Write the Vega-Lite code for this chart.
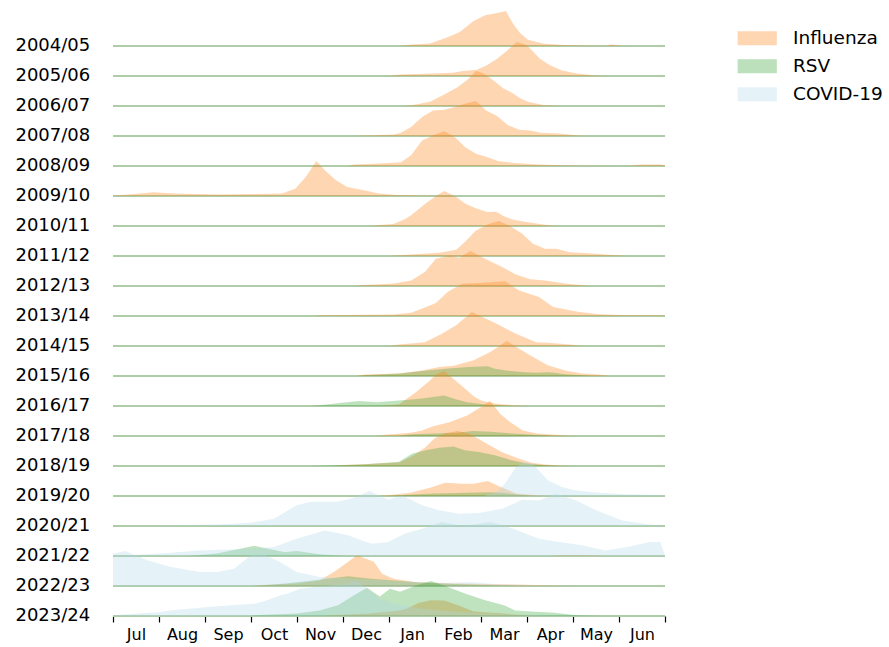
{
  "$schema": "https://vega.github.io/schema/vega-lite/v6.json",
  "padding": {"left": 15, "top": 11, "right": 5, "bottom": 5},
  "data": {"values": [
    {"season":"2004/05","virus":"Influenza","month":6.2,"level":0},
    {"season":"2004/05","virus":"Influenza","month":6.52,"level":4},
    {"season":"2004/05","virus":"Influenza","month":6.89,"level":7},
    {"season":"2004/05","virus":"Influenza","month":7.26,"level":24},
    {"season":"2004/05","virus":"Influenza","month":7.54,"level":40},
    {"season":"2004/05","virus":"Influenza","month":7.83,"level":71},
    {"season":"2004/05","virus":"Influenza","month":8.09,"level":88},
    {"season":"2004/05","virus":"Influenza","month":8.35,"level":94},
    {"season":"2004/05","virus":"Influenza","month":8.54,"level":100},
    {"season":"2004/05","virus":"Influenza","month":8.7,"level":63},
    {"season":"2004/05","virus":"Influenza","month":8.85,"level":37},
    {"season":"2004/05","virus":"Influenza","month":9.02,"level":18},
    {"season":"2004/05","virus":"Influenza","month":9.35,"level":7},
    {"season":"2004/05","virus":"Influenza","month":9.78,"level":3},
    {"season":"2004/05","virus":"Influenza","month":10.37,"level":1},
    {"season":"2004/05","virus":"Influenza","month":10.7,"level":1},
    {"season":"2004/05","virus":"Influenza","month":10.85,"level":4},
    {"season":"2004/05","virus":"Influenza","month":11.02,"level":1},
    {"season":"2004/05","virus":"Influenza","month":11.2,"level":0},

    {"season":"2005/06","virus":"Influenza","month":6.0,"level":0},
    {"season":"2005/06","virus":"Influenza","month":6.24,"level":4},
    {"season":"2005/06","virus":"Influenza","month":6.96,"level":7},
    {"season":"2005/06","virus":"Influenza","month":7.39,"level":9},
    {"season":"2005/06","virus":"Influenza","month":7.61,"level":14},
    {"season":"2005/06","virus":"Influenza","month":7.91,"level":18},
    {"season":"2005/06","virus":"Influenza","month":8.13,"level":31},
    {"season":"2005/06","virus":"Influenza","month":8.35,"level":49},
    {"season":"2005/06","virus":"Influenza","month":8.57,"level":73},
    {"season":"2005/06","virus":"Influenza","month":8.78,"level":97},
    {"season":"2005/06","virus":"Influenza","month":9.0,"level":88},
    {"season":"2005/06","virus":"Influenza","month":9.11,"level":73},
    {"season":"2005/06","virus":"Influenza","month":9.28,"level":49},
    {"season":"2005/06","virus":"Influenza","month":9.5,"level":31},
    {"season":"2005/06","virus":"Influenza","month":9.76,"level":16},
    {"season":"2005/06","virus":"Influenza","month":10.09,"level":7},
    {"season":"2005/06","virus":"Influenza","month":10.43,"level":2},
    {"season":"2005/06","virus":"Influenza","month":10.7,"level":0},

    {"season":"2006/07","virus":"Influenza","month":6.3,"level":0},
    {"season":"2006/07","virus":"Influenza","month":6.52,"level":3},
    {"season":"2006/07","virus":"Influenza","month":6.89,"level":12},
    {"season":"2006/07","virus":"Influenza","month":7.17,"level":31},
    {"season":"2006/07","virus":"Influenza","month":7.48,"level":53},
    {"season":"2006/07","virus":"Influenza","month":7.7,"level":74},
    {"season":"2006/07","virus":"Influenza","month":7.89,"level":100},
    {"season":"2006/07","virus":"Influenza","month":8.04,"level":94},
    {"season":"2006/07","virus":"Influenza","month":8.26,"level":74},
    {"season":"2006/07","virus":"Influenza","month":8.48,"level":51},
    {"season":"2006/07","virus":"Influenza","month":8.7,"level":36},
    {"season":"2006/07","virus":"Influenza","month":8.85,"level":22},
    {"season":"2006/07","virus":"Influenza","month":9.02,"level":12},
    {"season":"2006/07","virus":"Influenza","month":9.35,"level":3},
    {"season":"2006/07","virus":"Influenza","month":9.7,"level":0},

    {"season":"2007/08","virus":"Influenza","month":5.2,"level":0},
    {"season":"2007/08","virus":"Influenza","month":5.35,"level":1},
    {"season":"2007/08","virus":"Influenza","month":6.1,"level":4},
    {"season":"2007/08","virus":"Influenza","month":6.26,"level":9},
    {"season":"2007/08","virus":"Influenza","month":6.48,"level":26},
    {"season":"2007/08","virus":"Influenza","month":6.72,"level":54},
    {"season":"2007/08","virus":"Influenza","month":6.96,"level":73},
    {"season":"2007/08","virus":"Influenza","month":7.2,"level":75},
    {"season":"2007/08","virus":"Influenza","month":7.43,"level":83},
    {"season":"2007/08","virus":"Influenza","month":7.65,"level":92},
    {"season":"2007/08","virus":"Influenza","month":7.89,"level":100},
    {"season":"2007/08","virus":"Influenza","month":8.11,"level":73},
    {"season":"2007/08","virus":"Influenza","month":8.35,"level":57},
    {"season":"2007/08","virus":"Influenza","month":8.59,"level":31},
    {"season":"2007/08","virus":"Influenza","month":8.83,"level":18},
    {"season":"2007/08","virus":"Influenza","month":9.07,"level":16},
    {"season":"2007/08","virus":"Influenza","month":9.3,"level":9},
    {"season":"2007/08","virus":"Influenza","month":9.7,"level":7},
    {"season":"2007/08","virus":"Influenza","month":10.15,"level":1},
    {"season":"2007/08","virus":"Influenza","month":10.4,"level":0},

    {"season":"2008/09","virus":"Influenza","month":5.1,"level":0},
    {"season":"2008/09","virus":"Influenza","month":5.24,"level":4},
    {"season":"2008/09","virus":"Influenza","month":5.78,"level":7},
    {"season":"2008/09","virus":"Influenza","month":6.26,"level":11},
    {"season":"2008/09","virus":"Influenza","month":6.48,"level":31},
    {"season":"2008/09","virus":"Influenza","month":6.72,"level":73},
    {"season":"2008/09","virus":"Influenza","month":6.96,"level":88},
    {"season":"2008/09","virus":"Influenza","month":7.2,"level":99},
    {"season":"2008/09","virus":"Influenza","month":7.43,"level":83},
    {"season":"2008/09","virus":"Influenza","month":7.65,"level":54},
    {"season":"2008/09","virus":"Influenza","month":7.89,"level":35},
    {"season":"2008/09","virus":"Influenza","month":8.13,"level":26},
    {"season":"2008/09","virus":"Influenza","month":8.37,"level":14},
    {"season":"2008/09","virus":"Influenza","month":8.67,"level":9},
    {"season":"2008/09","virus":"Influenza","month":9.14,"level":5},
    {"season":"2008/09","virus":"Influenza","month":9.7,"level":2},
    {"season":"2008/09","virus":"Influenza","month":10.3,"level":1},
    {"season":"2008/09","virus":"Influenza","month":11.0,"level":0},
    {"season":"2008/09","virus":"Influenza","month":11.24,"level":1},
    {"season":"2008/09","virus":"Influenza","month":11.5,"level":4},
    {"season":"2008/09","virus":"Influenza","month":11.89,"level":4},
    {"season":"2008/09","virus":"Influenza","month":12.0,"level":2},

    {"season":"2009/10","virus":"Influenza","month":0,"level":1},
    {"season":"2009/10","virus":"Influenza","month":0.4,"level":5},
    {"season":"2009/10","virus":"Influenza","month":0.87,"level":11},
    {"season":"2009/10","virus":"Influenza","month":1.34,"level":7},
    {"season":"2009/10","virus":"Influenza","month":2.28,"level":4},
    {"season":"2009/10","virus":"Influenza","month":3.67,"level":7},
    {"season":"2009/10","virus":"Influenza","month":3.96,"level":21},
    {"season":"2009/10","virus":"Influenza","month":4.19,"level":54},
    {"season":"2009/10","virus":"Influenza","month":4.42,"level":100},
    {"season":"2009/10","virus":"Influenza","month":4.61,"level":73},
    {"season":"2009/10","virus":"Influenza","month":4.85,"level":45},
    {"season":"2009/10","virus":"Influenza","month":5.09,"level":26},
    {"season":"2009/10","virus":"Influenza","month":5.48,"level":16},
    {"season":"2009/10","virus":"Influenza","month":5.78,"level":7},
    {"season":"2009/10","virus":"Influenza","month":6.17,"level":3},
    {"season":"2009/10","virus":"Influenza","month":6.96,"level":1},
    {"season":"2009/10","virus":"Influenza","month":7.3,"level":0},

    {"season":"2010/11","virus":"Influenza","month":5.6,"level":0},
    {"season":"2010/11","virus":"Influenza","month":5.73,"level":2},
    {"season":"2010/11","virus":"Influenza","month":6.1,"level":6},
    {"season":"2010/11","virus":"Influenza","month":6.35,"level":20},
    {"season":"2010/11","virus":"Influenza","month":6.48,"level":31},
    {"season":"2010/11","virus":"Influenza","month":6.78,"level":63},
    {"season":"2010/11","virus":"Influenza","month":7.02,"level":86},
    {"season":"2010/11","virus":"Influenza","month":7.2,"level":100},
    {"season":"2010/11","virus":"Influenza","month":7.43,"level":86},
    {"season":"2010/11","virus":"Influenza","month":7.67,"level":63},
    {"season":"2010/11","virus":"Influenza","month":7.89,"level":51},
    {"season":"2010/11","virus":"Influenza","month":8.13,"level":40},
    {"season":"2010/11","virus":"Influenza","month":8.33,"level":41},
    {"season":"2010/11","virus":"Influenza","month":8.48,"level":29},
    {"season":"2010/11","virus":"Influenza","month":8.65,"level":20},
    {"season":"2010/11","virus":"Influenza","month":8.85,"level":14},
    {"season":"2010/11","virus":"Influenza","month":9.09,"level":9},
    {"season":"2010/11","virus":"Influenza","month":9.46,"level":2},
    {"season":"2010/11","virus":"Influenza","month":9.7,"level":0},

    {"season":"2011/12","virus":"Influenza","month":6.0,"level":0},
    {"season":"2011/12","virus":"Influenza","month":6.22,"level":2},
    {"season":"2011/12","virus":"Influenza","month":7.09,"level":9},
    {"season":"2011/12","virus":"Influenza","month":7.46,"level":18},
    {"season":"2011/12","virus":"Influenza","month":7.65,"level":40},
    {"season":"2011/12","virus":"Influenza","month":7.89,"level":73},
    {"season":"2011/12","virus":"Influenza","month":8.15,"level":91},
    {"season":"2011/12","virus":"Influenza","month":8.39,"level":100},
    {"season":"2011/12","virus":"Influenza","month":8.64,"level":85},
    {"season":"2011/12","virus":"Influenza","month":8.89,"level":64},
    {"season":"2011/12","virus":"Influenza","month":9.13,"level":35},
    {"season":"2011/12","virus":"Influenza","month":9.39,"level":21},
    {"season":"2011/12","virus":"Influenza","month":9.63,"level":21},
    {"season":"2011/12","virus":"Influenza","month":9.93,"level":11},
    {"season":"2011/12","virus":"Influenza","month":10.43,"level":7},
    {"season":"2011/12","virus":"Influenza","month":10.93,"level":2},
    {"season":"2011/12","virus":"Influenza","month":11.2,"level":0},

    {"season":"2012/13","virus":"Influenza","month":5.2,"level":0},
    {"season":"2012/13","virus":"Influenza","month":5.48,"level":3},
    {"season":"2012/13","virus":"Influenza","month":6.1,"level":7},
    {"season":"2012/13","virus":"Influenza","month":6.48,"level":16},
    {"season":"2012/13","virus":"Influenza","month":6.78,"level":40},
    {"season":"2012/13","virus":"Influenza","month":7.02,"level":78},
    {"season":"2012/13","virus":"Influenza","month":7.34,"level":88},
    {"season":"2012/13","virus":"Influenza","month":7.52,"level":81},
    {"season":"2012/13","virus":"Influenza","month":7.77,"level":100},
    {"season":"2012/13","virus":"Influenza","month":8.09,"level":78},
    {"season":"2012/13","virus":"Influenza","month":8.46,"level":54},
    {"season":"2012/13","virus":"Influenza","month":8.76,"level":33},
    {"season":"2012/13","virus":"Influenza","month":9.07,"level":19},
    {"season":"2012/13","virus":"Influenza","month":9.39,"level":16},
    {"season":"2012/13","virus":"Influenza","month":9.83,"level":7},
    {"season":"2012/13","virus":"Influenza","month":10.2,"level":2},
    {"season":"2012/13","virus":"Influenza","month":10.4,"level":0},

    {"season":"2013/14","virus":"Influenza","month":4.4,"level":0},
    {"season":"2013/14","virus":"Influenza","month":4.48,"level":2},
    {"season":"2013/14","virus":"Influenza","month":6.1,"level":4},
    {"season":"2013/14","virus":"Influenza","month":6.48,"level":9},
    {"season":"2013/14","virus":"Influenza","month":6.78,"level":24},
    {"season":"2013/14","virus":"Influenza","month":7.02,"level":37},
    {"season":"2013/14","virus":"Influenza","month":7.28,"level":69},
    {"season":"2013/14","virus":"Influenza","month":7.59,"level":92},
    {"season":"2013/14","virus":"Influenza","month":7.96,"level":94},
    {"season":"2013/14","virus":"Influenza","month":8.52,"level":99},
    {"season":"2013/14","virus":"Influenza","month":8.83,"level":73},
    {"season":"2013/14","virus":"Influenza","month":9.26,"level":54},
    {"season":"2013/14","virus":"Influenza","month":9.57,"level":26},
    {"season":"2013/14","virus":"Influenza","month":10.07,"level":13},
    {"season":"2013/14","virus":"Influenza","month":10.57,"level":5},
    {"season":"2013/14","virus":"Influenza","month":11.18,"level":2},
    {"season":"2013/14","virus":"Influenza","month":11.93,"level":2},
    {"season":"2013/14","virus":"Influenza","month":12.0,"level":1},

    {"season":"2014/15","virus":"Influenza","month":6.0,"level":0},
    {"season":"2014/15","virus":"Influenza","month":6.22,"level":4},
    {"season":"2014/15","virus":"Influenza","month":6.78,"level":11},
    {"season":"2014/15","virus":"Influenza","month":7.15,"level":35},
    {"season":"2014/15","virus":"Influenza","month":7.46,"level":59},
    {"season":"2014/15","virus":"Influenza","month":7.8,"level":97},
    {"season":"2014/15","virus":"Influenza","month":8.33,"level":64},
    {"season":"2014/15","virus":"Influenza","month":8.76,"level":35},
    {"season":"2014/15","virus":"Influenza","month":9.2,"level":11},
    {"season":"2014/15","virus":"Influenza","month":9.46,"level":9},
    {"season":"2014/15","virus":"Influenza","month":9.93,"level":4},
    {"season":"2014/15","virus":"Influenza","month":10.2,"level":0},

    {"season":"2015/16","virus":"Influenza","month":5.3,"level":0},
    {"season":"2015/16","virus":"Influenza","month":5.48,"level":4},
    {"season":"2015/16","virus":"Influenza","month":6.22,"level":7},
    {"season":"2015/16","virus":"Influenza","month":6.72,"level":16},
    {"season":"2015/16","virus":"Influenza","month":7.09,"level":26},
    {"season":"2015/16","virus":"Influenza","month":7.4,"level":29},
    {"season":"2015/16","virus":"Influenza","month":7.84,"level":45},
    {"season":"2015/16","virus":"Influenza","month":8.21,"level":69},
    {"season":"2015/16","virus":"Influenza","month":8.56,"level":100},
    {"season":"2015/16","virus":"Influenza","month":8.83,"level":78},
    {"season":"2015/16","virus":"Influenza","month":9.13,"level":54},
    {"season":"2015/16","virus":"Influenza","month":9.45,"level":31},
    {"season":"2015/16","virus":"Influenza","month":9.83,"level":16},
    {"season":"2015/16","virus":"Influenza","month":10.2,"level":7},
    {"season":"2015/16","virus":"Influenza","month":10.57,"level":4},
    {"season":"2015/16","virus":"Influenza","month":10.8,"level":0},
    {"season":"2015/16","virus":"RSV","month":5.3,"level":0},
    {"season":"2015/16","virus":"RSV","month":5.48,"level":2},
    {"season":"2015/16","virus":"RSV","month":6.22,"level":7},
    {"season":"2015/16","virus":"RSV","month":6.72,"level":14},
    {"season":"2015/16","virus":"RSV","month":7.22,"level":21},
    {"season":"2015/16","virus":"RSV","month":7.72,"level":26},
    {"season":"2015/16","virus":"RSV","month":8.15,"level":28},
    {"season":"2015/16","virus":"RSV","month":8.3,"level":21},
    {"season":"2015/16","virus":"RSV","month":8.65,"level":14},
    {"season":"2015/16","virus":"RSV","month":8.96,"level":11},
    {"season":"2015/16","virus":"RSV","month":9.2,"level":9},
    {"season":"2015/16","virus":"RSV","month":9.45,"level":11},
    {"season":"2015/16","virus":"RSV","month":9.6,"level":9},
    {"season":"2015/16","virus":"RSV","month":9.83,"level":5},
    {"season":"2015/16","virus":"RSV","month":10.2,"level":2},
    {"season":"2015/16","virus":"RSV","month":10.4,"level":0},

    {"season":"2016/17","virus":"Influenza","month":5.8,"level":0},
    {"season":"2016/17","virus":"Influenza","month":6.22,"level":5},
    {"season":"2016/17","virus":"Influenza","month":6.59,"level":40},
    {"season":"2016/17","virus":"Influenza","month":6.89,"level":73},
    {"season":"2016/17","virus":"Influenza","month":7.02,"level":90},
    {"season":"2016/17","virus":"Influenza","month":7.2,"level":100},
    {"season":"2016/17","virus":"Influenza","month":7.43,"level":74},
    {"season":"2016/17","virus":"Influenza","month":7.65,"level":50},
    {"season":"2016/17","virus":"Influenza","month":7.84,"level":28},
    {"season":"2016/17","virus":"Influenza","month":8.0,"level":16},
    {"season":"2016/17","virus":"Influenza","month":8.3,"level":7},
    {"season":"2016/17","virus":"Influenza","month":8.7,"level":2},
    {"season":"2016/17","virus":"Influenza","month":9.0,"level":0},
    {"season":"2016/17","virus":"RSV","month":4.3,"level":0},
    {"season":"2016/17","virus":"RSV","month":4.49,"level":2},
    {"season":"2016/17","virus":"RSV","month":4.98,"level":9},
    {"season":"2016/17","virus":"RSV","month":5.35,"level":14},
    {"season":"2016/17","virus":"RSV","month":5.73,"level":11},
    {"season":"2016/17","virus":"RSV","month":6.22,"level":16},
    {"season":"2016/17","virus":"RSV","month":6.67,"level":21},
    {"season":"2016/17","virus":"RSV","month":7.2,"level":30},
    {"season":"2016/17","virus":"RSV","month":7.45,"level":19},
    {"season":"2016/17","virus":"RSV","month":7.7,"level":11},
    {"season":"2016/17","virus":"RSV","month":8.1,"level":4},
    {"season":"2016/17","virus":"RSV","month":8.5,"level":1},
    {"season":"2016/17","virus":"RSV","month":8.7,"level":0},

    {"season":"2017/18","virus":"Influenza","month":5.7,"level":0},
    {"season":"2017/18","virus":"Influenza","month":5.98,"level":4},
    {"season":"2017/18","virus":"Influenza","month":6.47,"level":9},
    {"season":"2017/18","virus":"Influenza","month":6.72,"level":16},
    {"season":"2017/18","virus":"Influenza","month":6.96,"level":28},
    {"season":"2017/18","virus":"Influenza","month":7.33,"level":40},
    {"season":"2017/18","virus":"Influenza","month":7.71,"level":59},
    {"season":"2017/18","virus":"Influenza","month":8.0,"level":83},
    {"season":"2017/18","virus":"Influenza","month":8.2,"level":100},
    {"season":"2017/18","virus":"Influenza","month":8.41,"level":64},
    {"season":"2017/18","virus":"Influenza","month":8.63,"level":40},
    {"season":"2017/18","virus":"Influenza","month":8.91,"level":16},
    {"season":"2017/18","virus":"Influenza","month":9.22,"level":7},
    {"season":"2017/18","virus":"Influenza","month":9.7,"level":3},
    {"season":"2017/18","virus":"Influenza","month":10.0,"level":0},
    {"season":"2017/18","virus":"RSV","month":6.2,"level":0},
    {"season":"2017/18","virus":"RSV","month":6.47,"level":5},
    {"season":"2017/18","virus":"RSV","month":7.46,"level":9},
    {"season":"2017/18","virus":"RSV","month":7.84,"level":14},
    {"season":"2017/18","virus":"RSV","month":8.21,"level":12},
    {"season":"2017/18","virus":"RSV","month":8.7,"level":7},
    {"season":"2017/18","virus":"RSV","month":9.33,"level":2},
    {"season":"2017/18","virus":"RSV","month":9.6,"level":0},

    {"season":"2018/19","virus":"Influenza","month":4.8,"level":0},
    {"season":"2018/19","virus":"Influenza","month":4.98,"level":2},
    {"season":"2018/19","virus":"Influenza","month":6.22,"level":10},
    {"season":"2018/19","virus":"Influenza","month":6.5,"level":28},
    {"season":"2018/19","virus":"Influenza","month":6.78,"level":52},
    {"season":"2018/19","virus":"Influenza","month":7.0,"level":80},
    {"season":"2018/19","virus":"Influenza","month":7.25,"level":94},
    {"season":"2018/19","virus":"Influenza","month":7.5,"level":100},
    {"season":"2018/19","virus":"Influenza","month":7.75,"level":92},
    {"season":"2018/19","virus":"Influenza","month":8.1,"level":66},
    {"season":"2018/19","virus":"Influenza","month":8.45,"level":40},
    {"season":"2018/19","virus":"Influenza","month":8.8,"level":22},
    {"season":"2018/19","virus":"Influenza","month":9.1,"level":9},
    {"season":"2018/19","virus":"Influenza","month":9.4,"level":4},
    {"season":"2018/19","virus":"Influenza","month":9.8,"level":1},
    {"season":"2018/19","virus":"Influenza","month":10.0,"level":0},
    {"season":"2018/19","virus":"RSV","month":4.3,"level":0},
    {"season":"2018/19","virus":"RSV","month":4.49,"level":1},
    {"season":"2018/19","virus":"RSV","month":5.48,"level":5},
    {"season":"2018/19","virus":"RSV","month":6.22,"level":12},
    {"season":"2018/19","virus":"RSV","month":6.5,"level":35},
    {"season":"2018/19","virus":"RSV","month":6.8,"level":45},
    {"season":"2018/19","virus":"RSV","month":7.1,"level":52},
    {"season":"2018/19","virus":"RSV","month":7.4,"level":56},
    {"season":"2018/19","virus":"RSV","month":7.65,"level":45},
    {"season":"2018/19","virus":"RSV","month":7.95,"level":40},
    {"season":"2018/19","virus":"RSV","month":8.3,"level":31},
    {"season":"2018/19","virus":"RSV","month":8.65,"level":17},
    {"season":"2018/19","virus":"RSV","month":9.0,"level":7},
    {"season":"2018/19","virus":"RSV","month":9.4,"level":2},
    {"season":"2018/19","virus":"RSV","month":9.7,"level":0},

    {"season":"2019/20","virus":"Influenza","month":5.8,"level":0},
    {"season":"2019/20","virus":"Influenza","month":5.98,"level":2},
    {"season":"2019/20","virus":"Influenza","month":6.47,"level":9},
    {"season":"2019/20","virus":"Influenza","month":6.91,"level":24},
    {"season":"2019/20","virus":"Influenza","month":7.22,"level":38},
    {"season":"2019/20","virus":"Influenza","month":7.59,"level":35},
    {"season":"2019/20","virus":"Influenza","month":7.84,"level":35},
    {"season":"2019/20","virus":"Influenza","month":8.15,"level":43},
    {"season":"2019/20","virus":"Influenza","month":8.39,"level":28},
    {"season":"2019/20","virus":"Influenza","month":8.76,"level":7},
    {"season":"2019/20","virus":"Influenza","month":9.2,"level":2},
    {"season":"2019/20","virus":"Influenza","month":9.5,"level":0},
    {"season":"2019/20","virus":"RSV","month":6.0,"level":0},
    {"season":"2019/20","virus":"RSV","month":6.22,"level":2},
    {"season":"2019/20","virus":"RSV","month":6.96,"level":7},
    {"season":"2019/20","virus":"RSV","month":7.71,"level":9},
    {"season":"2019/20","virus":"RSV","month":8.15,"level":11},
    {"season":"2019/20","virus":"RSV","month":8.46,"level":9},
    {"season":"2019/20","virus":"RSV","month":8.96,"level":2},
    {"season":"2019/20","virus":"RSV","month":9.2,"level":0},
    {"season":"2019/20","virus":"COVID-19","month":8.05,"level":0},
    {"season":"2019/20","virus":"COVID-19","month":8.33,"level":11},
    {"season":"2019/20","virus":"COVID-19","month":8.52,"level":35},
    {"season":"2019/20","virus":"COVID-19","month":8.76,"level":83},
    {"season":"2019/20","virus":"COVID-19","month":8.96,"level":97},
    {"season":"2019/20","virus":"COVID-19","month":9.13,"level":92},
    {"season":"2019/20","virus":"COVID-19","month":9.45,"level":45},
    {"season":"2019/20","virus":"COVID-19","month":9.76,"level":26},
    {"season":"2019/20","virus":"COVID-19","month":10.07,"level":16},
    {"season":"2019/20","virus":"COVID-19","month":10.57,"level":9},
    {"season":"2019/20","virus":"COVID-19","month":11.18,"level":5},
    {"season":"2019/20","virus":"COVID-19","month":12.0,"level":2},

    {"season":"2020/21","virus":"COVID-19","month":0,"level":0},
    {"season":"2020/21","virus":"COVID-19","month":2.28,"level":4},
    {"season":"2020/21","virus":"COVID-19","month":3.0,"level":9},
    {"season":"2020/21","virus":"COVID-19","month":3.5,"level":21},
    {"season":"2020/21","virus":"COVID-19","month":3.99,"level":59},
    {"season":"2020/21","virus":"COVID-19","month":4.3,"level":69},
    {"season":"2020/21","virus":"COVID-19","month":4.86,"level":69},
    {"season":"2020/21","virus":"COVID-19","month":5.17,"level":78},
    {"season":"2020/21","virus":"COVID-19","month":5.58,"level":100},
    {"season":"2020/21","virus":"COVID-19","month":5.98,"level":75},
    {"season":"2020/21","virus":"COVID-19","month":6.28,"level":88},
    {"season":"2020/21","virus":"COVID-19","month":6.72,"level":59},
    {"season":"2020/21","virus":"COVID-19","month":7.09,"level":45},
    {"season":"2020/21","virus":"COVID-19","month":7.52,"level":35},
    {"season":"2020/21","virus":"COVID-19","month":7.96,"level":37},
    {"season":"2020/21","virus":"COVID-19","month":8.46,"level":49},
    {"season":"2020/21","virus":"COVID-19","month":8.89,"level":75},
    {"season":"2020/21","virus":"COVID-19","month":9.26,"level":73},
    {"season":"2020/21","virus":"COVID-19","month":9.63,"level":92},
    {"season":"2020/21","virus":"COVID-19","month":10.07,"level":73},
    {"season":"2020/21","virus":"COVID-19","month":10.5,"level":45},
    {"season":"2020/21","virus":"COVID-19","month":11.07,"level":16},
    {"season":"2020/21","virus":"COVID-19","month":11.67,"level":4},
    {"season":"2020/21","virus":"COVID-19","month":12.0,"level":0},

    {"season":"2021/22","virus":"Influenza","month":9.5,"level":0},
    {"season":"2021/22","virus":"Influenza","month":9.7,"level":2},
    {"season":"2021/22","virus":"Influenza","month":10.3,"level":2},
    {"season":"2021/22","virus":"Influenza","month":10.7,"level":0},
    {"season":"2021/22","virus":"RSV","month":1.63,"level":0},
    {"season":"2021/22","virus":"RSV","month":2.26,"level":7},
    {"season":"2021/22","virus":"RSV","month":2.76,"level":21},
    {"season":"2021/22","virus":"RSV","month":3.07,"level":29},
    {"season":"2021/22","virus":"RSV","month":3.37,"level":21},
    {"season":"2021/22","virus":"RSV","month":3.74,"level":11},
    {"season":"2021/22","virus":"RSV","month":3.99,"level":14},
    {"season":"2021/22","virus":"RSV","month":4.49,"level":5},
    {"season":"2021/22","virus":"RSV","month":4.98,"level":1},
    {"season":"2021/22","virus":"RSV","month":5.2,"level":0},
    {"season":"2021/22","virus":"COVID-19","month":0,"level":0},
    {"season":"2021/22","virus":"COVID-19","month":1.02,"level":7},
    {"season":"2021/22","virus":"COVID-19","month":1.89,"level":16},
    {"season":"2021/22","virus":"COVID-19","month":3.0,"level":21},
    {"season":"2021/22","virus":"COVID-19","month":3.5,"level":26},
    {"season":"2021/22","virus":"COVID-19","month":3.99,"level":49},
    {"season":"2021/22","virus":"COVID-19","month":4.61,"level":73},
    {"season":"2021/22","virus":"COVID-19","month":5.11,"level":59},
    {"season":"2021/22","virus":"COVID-19","month":5.61,"level":35},
    {"season":"2021/22","virus":"COVID-19","month":5.98,"level":40},
    {"season":"2021/22","virus":"COVID-19","month":6.35,"level":64},
    {"season":"2021/22","virus":"COVID-19","month":6.72,"level":78},
    {"season":"2021/22","virus":"COVID-19","month":7.15,"level":97},
    {"season":"2021/22","virus":"COVID-19","month":7.59,"level":85},
    {"season":"2021/22","virus":"COVID-19","month":8.21,"level":97},
    {"season":"2021/22","virus":"COVID-19","month":8.7,"level":78},
    {"season":"2021/22","virus":"COVID-19","month":9.26,"level":49},
    {"season":"2021/22","virus":"COVID-19","month":9.7,"level":40},
    {"season":"2021/22","virus":"COVID-19","month":10.2,"level":31},
    {"season":"2021/22","virus":"COVID-19","month":10.7,"level":16},
    {"season":"2021/22","virus":"COVID-19","month":11.18,"level":26},
    {"season":"2021/22","virus":"COVID-19","month":11.67,"level":40},
    {"season":"2021/22","virus":"COVID-19","month":11.9,"level":40},
    {"season":"2021/22","virus":"COVID-19","month":12.0,"level":0},

    {"season":"2022/23","virus":"Influenza","month":3.0,"level":0},
    {"season":"2022/23","virus":"Influenza","month":3.13,"level":2},
    {"season":"2022/23","virus":"Influenza","month":3.99,"level":7},
    {"season":"2022/23","virus":"Influenza","month":4.49,"level":16},
    {"season":"2022/23","virus":"Influenza","month":4.86,"level":45},
    {"season":"2022/23","virus":"Influenza","month":5.17,"level":75},
    {"season":"2022/23","virus":"Influenza","month":5.3,"level":88},
    {"season":"2022/23","virus":"Influenza","month":5.67,"level":69},
    {"season":"2022/23","virus":"Influenza","month":5.85,"level":35},
    {"season":"2022/23","virus":"Influenza","month":6.1,"level":21},
    {"season":"2022/23","virus":"Influenza","month":6.59,"level":11},
    {"season":"2022/23","virus":"Influenza","month":7.46,"level":7},
    {"season":"2022/23","virus":"Influenza","month":8.7,"level":4},
    {"season":"2022/23","virus":"Influenza","month":9.93,"level":1},
    {"season":"2022/23","virus":"Influenza","month":10.3,"level":0},
    {"season":"2022/23","virus":"RSV","month":3.0,"level":0},
    {"season":"2022/23","virus":"RSV","month":3.13,"level":1},
    {"season":"2022/23","virus":"RSV","month":3.74,"level":7},
    {"season":"2022/23","virus":"RSV","month":4.49,"level":18},
    {"season":"2022/23","virus":"RSV","month":5.11,"level":28},
    {"season":"2022/23","virus":"RSV","month":5.61,"level":21},
    {"season":"2022/23","virus":"RSV","month":6.1,"level":16},
    {"season":"2022/23","virus":"RSV","month":6.59,"level":11},
    {"season":"2022/23","virus":"RSV","month":7.09,"level":7},
    {"season":"2022/23","virus":"RSV","month":7.72,"level":4},
    {"season":"2022/23","virus":"RSV","month":8.46,"level":1},
    {"season":"2022/23","virus":"RSV","month":8.7,"level":0},
    {"season":"2022/23","virus":"COVID-19","month":0,"level":92},
    {"season":"2022/23","virus":"COVID-19","month":0.27,"level":100},
    {"season":"2022/23","virus":"COVID-19","month":0.76,"level":73},
    {"season":"2022/23","virus":"COVID-19","month":1.26,"level":54},
    {"season":"2022/23","virus":"COVID-19","month":1.89,"level":40},
    {"season":"2022/23","virus":"COVID-19","month":2.26,"level":40},
    {"season":"2022/23","virus":"COVID-19","month":2.63,"level":49},
    {"season":"2022/23","virus":"COVID-19","month":3.0,"level":88},
    {"season":"2022/23","virus":"COVID-19","month":3.24,"level":92},
    {"season":"2022/23","virus":"COVID-19","month":3.62,"level":69},
    {"season":"2022/23","virus":"COVID-19","month":3.99,"level":40},
    {"season":"2022/23","virus":"COVID-19","month":4.49,"level":26},
    {"season":"2022/23","virus":"COVID-19","month":5.23,"level":21},
    {"season":"2022/23","virus":"COVID-19","month":5.98,"level":16},
    {"season":"2022/23","virus":"COVID-19","month":6.47,"level":11},
    {"season":"2022/23","virus":"COVID-19","month":7.22,"level":9},
    {"season":"2022/23","virus":"COVID-19","month":7.84,"level":11},
    {"season":"2022/23","virus":"COVID-19","month":8.33,"level":5},
    {"season":"2022/23","virus":"COVID-19","month":9.33,"level":2},
    {"season":"2022/23","virus":"COVID-19","month":10.7,"level":1},
    {"season":"2022/23","virus":"COVID-19","month":12.0,"level":0},

    {"season":"2023/24","virus":"Influenza","month":4.6,"level":0},
    {"season":"2023/24","virus":"Influenza","month":4.74,"level":2},
    {"season":"2023/24","virus":"Influenza","month":5.57,"level":7},
    {"season":"2023/24","virus":"Influenza","month":6.22,"level":16},
    {"season":"2023/24","virus":"Influenza","month":6.38,"level":21},
    {"season":"2023/24","virus":"Influenza","month":6.65,"level":38},
    {"season":"2023/24","virus":"Influenza","month":6.91,"level":45},
    {"season":"2023/24","virus":"Influenza","month":7.2,"level":44},
    {"season":"2023/24","virus":"Influenza","month":7.5,"level":31},
    {"season":"2023/24","virus":"Influenza","month":7.84,"level":13},
    {"season":"2023/24","virus":"Influenza","month":8.5,"level":7},
    {"season":"2023/24","virus":"Influenza","month":8.91,"level":2},
    {"season":"2023/24","virus":"Influenza","month":9.2,"level":0},
    {"season":"2023/24","virus":"RSV","month":3.0,"level":0},
    {"season":"2023/24","virus":"RSV","month":3.07,"level":2},
    {"season":"2023/24","virus":"RSV","month":3.99,"level":7},
    {"season":"2023/24","virus":"RSV","month":4.49,"level":16},
    {"season":"2023/24","virus":"RSV","month":4.89,"level":31},
    {"season":"2023/24","virus":"RSV","month":5.24,"level":59},
    {"season":"2023/24","virus":"RSV","month":5.52,"level":81},
    {"season":"2023/24","virus":"RSV","month":5.8,"level":56},
    {"season":"2023/24","virus":"RSV","month":6.02,"level":78},
    {"season":"2023/24","virus":"RSV","month":6.24,"level":69},
    {"season":"2023/24","virus":"RSV","month":6.6,"level":88},
    {"season":"2023/24","virus":"RSV","month":6.91,"level":100},
    {"season":"2023/24","virus":"RSV","month":7.24,"level":85},
    {"season":"2023/24","virus":"RSV","month":7.65,"level":64},
    {"season":"2023/24","virus":"RSV","month":8.09,"level":45},
    {"season":"2023/24","virus":"RSV","month":8.5,"level":31},
    {"season":"2023/24","virus":"RSV","month":8.74,"level":16},
    {"season":"2023/24","virus":"RSV","month":9.09,"level":13},
    {"season":"2023/24","virus":"RSV","month":9.59,"level":9},
    {"season":"2023/24","virus":"RSV","month":10.09,"level":2},
    {"season":"2023/24","virus":"RSV","month":10.6,"level":0},
    {"season":"2023/24","virus":"COVID-19","month":0,"level":2},
    {"season":"2023/24","virus":"COVID-19","month":0.54,"level":7},
    {"season":"2023/24","virus":"COVID-19","month":0.98,"level":11},
    {"season":"2023/24","virus":"COVID-19","month":1.39,"level":18},
    {"season":"2023/24","virus":"COVID-19","month":2.07,"level":26},
    {"season":"2023/24","virus":"COVID-19","month":2.57,"level":31},
    {"season":"2023/24","virus":"COVID-19","month":3.07,"level":35},
    {"season":"2023/24","virus":"COVID-19","month":3.3,"level":43},
    {"season":"2023/24","virus":"COVID-19","month":3.65,"level":59},
    {"season":"2023/24","virus":"COVID-19","month":3.8,"level":64},
    {"season":"2023/24","virus":"COVID-19","month":4.07,"level":78},
    {"season":"2023/24","virus":"COVID-19","month":4.39,"level":83},
    {"season":"2023/24","virus":"COVID-19","month":4.74,"level":88},
    {"season":"2023/24","virus":"COVID-19","month":5.07,"level":91},
    {"season":"2023/24","virus":"COVID-19","month":5.28,"level":100},
    {"season":"2023/24","virus":"COVID-19","month":5.48,"level":83},
    {"season":"2023/24","virus":"COVID-19","month":5.8,"level":48},
    {"season":"2023/24","virus":"COVID-19","month":6.07,"level":38},
    {"season":"2023/24","virus":"COVID-19","month":6.33,"level":30},
    {"season":"2023/24","virus":"COVID-19","month":6.65,"level":22},
    {"season":"2023/24","virus":"COVID-19","month":7.07,"level":16},
    {"season":"2023/24","virus":"COVID-19","month":7.65,"level":10},
    {"season":"2023/24","virus":"COVID-19","month":8.5,"level":5},
    {"season":"2023/24","virus":"COVID-19","month":9.33,"level":2},
    {"season":"2023/24","virus":"COVID-19","month":10.5,"level":1},
    {"season":"2023/24","virus":"COVID-19","month":12.0,"level":0}
  ]},
  "facet": {
    "row": {
      "field": "season", "type": "ordinal",
      "header": {"title": null, "labelAngle": 0, "labelAlign": "right", "labelAnchor": "start", "labelBaseline": "middle", "labelFont": "DejaVu Sans", "labelFontSize": 18, "labelColor": "black", "labelPadding": -52}
    }
  },
  "spacing": {"row": 0},
  "bounds": "flush",
  "spec": {
    "width": 552,
    "height": 30,
    "encoding": {
      "x": {"field": "month", "type": "quantitative",
        "scale": {"domain": [0, 12], "nice": false, "zero": false},
        "axis": {"title": null, "values": [0,1,2,3,4,5,6,7,8,9,10,11,12],
          "labelExpr": "['Jul','Aug','Sep','Oct','Nov','Dec','Jan','Feb','Mar','Apr','May','Jun',''][datum.value]",
          "labelOffset": 23, "domain": false, "grid": false, "tickColor": "black", "tickSize": 6, "tickWidth": 1.2,
          "labelFont": "DejaVu Sans", "labelFontSize": 16, "labelColor": "black", "labelPadding": 4, "labelFlush": false, "labelOverlap": false, "labelBound": false}}
    },
    "layer": [
      {
        "mark": {"type": "rule", "color": "#afcca8", "strokeWidth": 2.2},
        "encoding": {"y": {"aggregate": "min", "field": "level", "type": "quantitative", "scale": {"domain": [0, 100], "range": [30, -5], "nice": false}, "axis": null}, "x": null}
      },
      {
        "transform": [{"filter": "datum.virus == 'Influenza'"}],
        "mark": {"type": "area", "fillOpacity": 0.32, "interpolate": "linear"},
        "encoding": {
          "y": {"field": "level", "type": "quantitative", "stack": null, "scale": {"domain": [0, 100], "range": [30, -5], "nice": false}, "axis": null},
          "color": {"field": "virus", "type": "nominal", "scale": {"domain": ["Influenza", "RSV", "COVID-19"], "range": ["#ff7f0e", "#2ca02c", "#add8e6"]}, "legend": {"title": null}}
        }
      },
      {
        "transform": [{"filter": "datum.virus == 'RSV'"}],
        "mark": {"type": "area", "fillOpacity": 0.3, "interpolate": "linear"},
        "encoding": {
          "y": {"field": "level", "type": "quantitative", "stack": null, "axis": null},
          "color": {"field": "virus", "type": "nominal"}
        }
      },
      {
        "transform": [{"filter": "datum.virus == 'COVID-19'"}],
        "mark": {"type": "area", "fillOpacity": 0.32, "interpolate": "linear"},
        "encoding": {
          "y": {"field": "level", "type": "quantitative", "stack": null, "axis": null},
          "color": {"field": "virus", "type": "nominal"}
        }
      }
    ]
  },
  "config": {
    "view": {"stroke": null},
    "legend": {
      "orient": "none", "legendX": 635, "legendY": 13, "padding": 0,
      "symbolType": "M-2.8,-1H2.8V1H-2.8Z", "symbolSize": 196, "symbolOpacity": 0.32, "symbolStrokeWidth": 0,
      "labelFont": "DejaVu Sans", "labelFontSize": 18.5, "labelColor": "black", "labelOffset": 26.5, "rowPadding": 9
    }
  }
}
